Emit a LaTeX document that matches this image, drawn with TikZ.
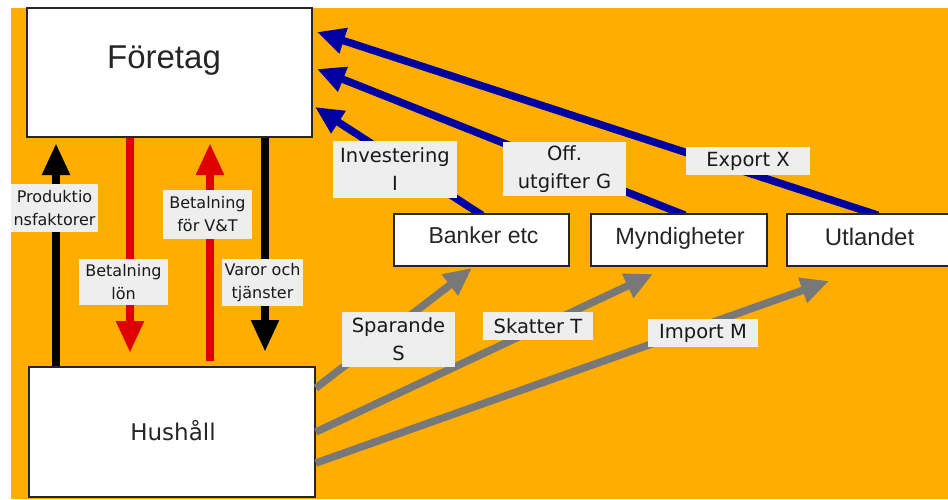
\documentclass[tikz,border=0pt]{standalone}
\usepackage{fontspec}
\setmainfont{DejaVu Sans}
\newfontfamily\boxfont{Liberation Sans}
\usetikzlibrary{arrows.meta,calc}
\definecolor{bgorange}{RGB}{255,173,0}
\definecolor{arrblue}{RGB}{0,0,160}
\definecolor{arrred}{RGB}{221,0,0}
\definecolor{arrgray}{RGB}{120,120,120}
\definecolor{lblgray}{RGB}{238,238,238}
\begin{document}
\begin{tikzpicture}[x=1pt,y=-1pt,
  boxnode/.style={draw=black!85, line width=1.6pt, fill=white, inner sep=0pt},
  boxtext/.style={anchor=base, inner sep=0pt, text=black!85},
  lblbig/.style={fill=lblgray, inner sep=0pt, align=center, text=black!90,
    font=\fontsize{19.5}{28}\selectfont},
  lblsmall/.style={fill=lblgray, inner sep=0pt, align=center, text=black!90,
    font=\fontsize{16}{23}\selectfont},
  vblack/.style={draw=black, line width=8.5pt, -{Triangle[length=32pt,width=26pt]}},
  vred/.style={draw=arrred, line width=8.5pt, -{Triangle[length=32pt,width=26pt]}},
  bluearr/.style={draw=arrblue, line width=7.5pt, -{Triangle[length=28pt,width=25pt]}},
  grayarr/.style={draw=arrgray, line width=7.5pt, -{Triangle[length=28pt,width=25pt]}}
]
\useasboundingbox (0,0) rectangle (948,499);
\fill[white] (0,0) rectangle (948,499);
\fill[bgorange] (11,8) rectangle (948,499);

% tip coordinates
\coordinate (prodTip) at (56,143);
\coordinate (lonTip) at (130,353);
\coordinate (vtTip) at (210,143);
\coordinate (vtStart) at (210,361);
\coordinate (varTip) at (265,352);
\coordinate (invTip) at (315,107);
\coordinate (offTip) at (317,69);
\coordinate (expTip) at (317,32);
\coordinate (sparTip) at (472,268);
\coordinate (skatTip) at (653,274);
\coordinate (impTip) at (829,281);

% boxes (shapes)
\node[boxnode, minimum width=285pt, minimum height=129pt] (foretag) at (169.5,72.5) {};
\node[boxnode, minimum width=286pt, minimum height=130pt] (hushall) at (172,432) {};

% blue arrows (drawn below the lower boxes)
\node[boxnode, draw=none, fill=none, minimum width=175pt, minimum height=52pt] (banker) at (481.5,240) {};
\node[boxnode, draw=none, fill=none, minimum width=176pt, minimum height=52pt] (mynd) at (679,240) {};
\node[boxnode, draw=none, fill=none, minimum width=168pt, minimum height=52pt] (utl) at (871,240) {};
\draw[bluearr] ($(banker.north)+(0.5,2)$) -- (invTip);
\draw[bluearr] ($(mynd.north)+(6,2)$) -- (offTip);
\draw[bluearr] ($(utl.north)+(7,2)$) -- (expTip);
\node[boxnode, minimum width=175pt, minimum height=52pt] (bankerbox) at (banker) {};
\node[boxnode, minimum width=176pt, minimum height=52pt] (myndbox) at (mynd) {};
\node[boxnode, minimum width=168pt, minimum height=52pt] (utlbox) at (utl) {};

% vertical arrows
\draw[vblack] (hushall.north -| prodTip) -- (prodTip);
\draw[vred] (foretag.south -| lonTip) -- (lonTip);
\draw[vred] (vtStart) -- (vtTip);
\draw[vblack] (foretag.south -| varTip) -- (varTip);

% gray arrows
\draw[grayarr] ($(hushall.east)+(0,-44)$) -- (sparTip);
\draw[grayarr] (hushall.east) -- (skatTip);
\draw[grayarr] ($(hushall.east)+(0,31)$) -- (impTip);

% box texts
\node[boxtext, font=\boxfont\fontsize{33}{36}\selectfont] (foretagtxt) at (164,68) {Företag};
\node[boxtext, font=\fontsize{23}{26}\selectfont] (hushalltxt) at (173,440) {Hushåll};
\node[boxtext, font=\boxfont\fontsize{23}{26}\selectfont] (bankertxt) at (483.5,243) {Banker etc};
\node[boxtext, font=\boxfont\fontsize{23.5}{26}\selectfont] (myndtxt) at (680,244) {Myndigheter};
\node[boxtext, font=\boxfont\fontsize{24}{26}\selectfont] (utltxt) at (869.5,245) {Utlandet};

% labels
\node[lblsmall, minimum width=87pt, minimum height=48pt] (prodlbl) at (54.5,208) {Produktio\\nsfaktorer};
\node[lblsmall, minimum width=89pt, minimum height=46pt] (lonlbl) at (123.5,282) {Betalning\\lön};
\node[lblsmall, minimum width=89pt, minimum height=49pt] (vtlbl) at (207.5,214.5) {Betalning\\för V\&T};
\node[lblsmall, minimum width=81pt, minimum height=47pt] (varlbl) at (262.5,282.5) {Varor och\\tjänster};

\node[lblbig, minimum width=124pt, minimum height=57pt] (invlbl) at (395,169.5) {Investering\\I};
\node[lblbig, minimum width=123pt, minimum height=54pt] (offlbl) at (564.5,169) {Off.\\utgifter G};
\node[lblbig, minimum width=124pt, minimum height=28pt] (explbl) at (748,161) {Export X};
\node[lblbig, minimum width=113pt, minimum height=55pt] (sparlbl) at (398.5,339.5) {Sparande\\S};
\node[lblbig, minimum width=110pt, minimum height=28pt] (skatlbl) at (538,326) {Skatter T};
\node[lblbig, minimum width=110pt, minimum height=28pt] (implbl) at (703,333) {Import M};
\end{tikzpicture}
\end{document}
